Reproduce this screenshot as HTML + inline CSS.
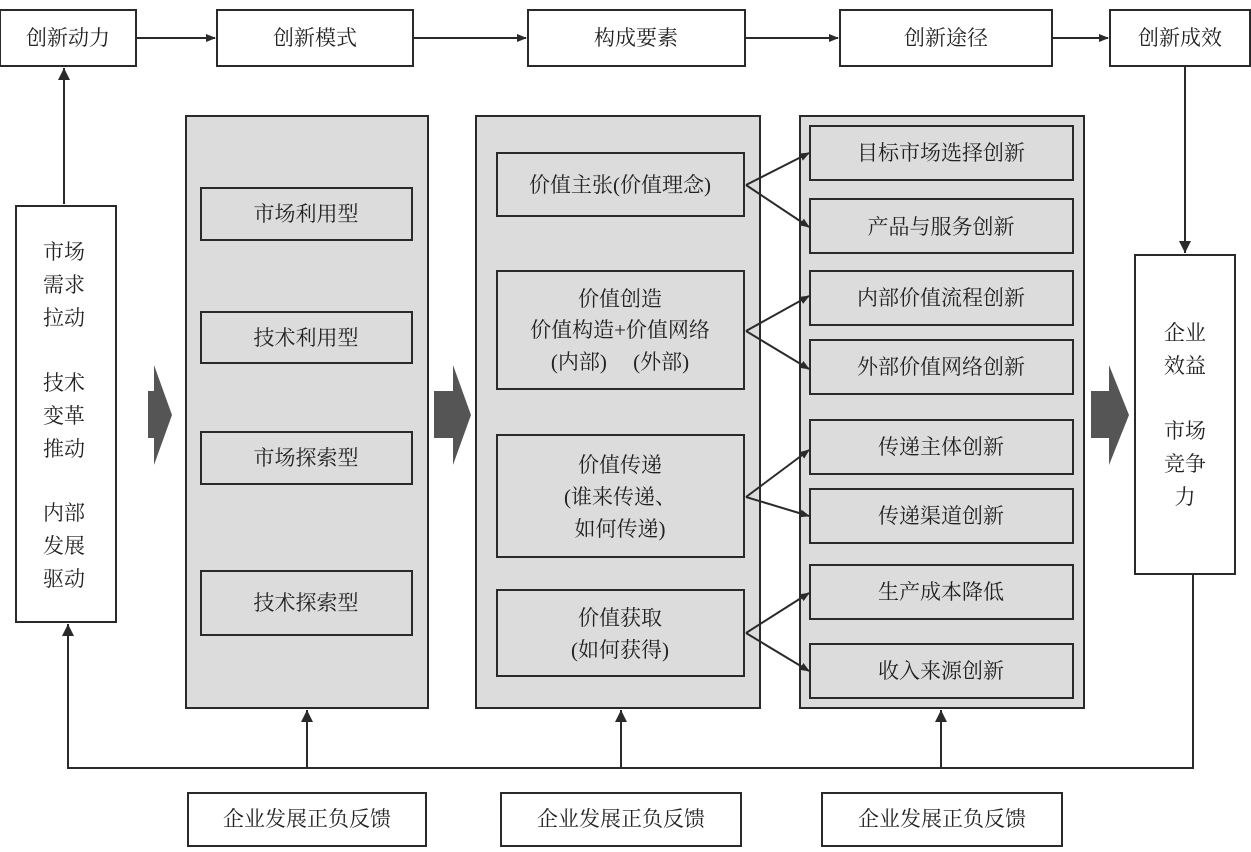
<!DOCTYPE html>
<html><head><meta charset="utf-8"><style>
html,body{margin:0;padding:0;background:#fff;}
svg{display:block;}
text{font-family:"Liberation Serif","Noto Serif CJK SC",serif;font-size:21px;fill:#222;text-anchor:middle;dominant-baseline:central;}
.b{fill:#fff;stroke:#2a2a2a;stroke-width:2;}
.g{fill:#dcdcdc;stroke:#2a2a2a;stroke-width:2;}
.l{stroke:#2a2a2a;stroke-width:2;fill:none;}
</style></head><body>
<svg width="1251" height="852" viewBox="0 0 1251 852">
<defs><marker id="a" markerWidth="10" markerHeight="8" refX="9" refY="4" orient="auto" markerUnits="userSpaceOnUse"><path d="M0,0 L10,4 L0,8 Z" fill="#2a2a2a"/></marker>
<marker id="u" markerWidth="12" markerHeight="16" refX="12" refY="6" orient="auto" markerUnits="userSpaceOnUse"><path d="M0,0 L12,6 L0,12 Z" fill="#2a2a2a"/></marker></defs>
<rect class="b" x="0" y="10" width="136" height="56"/><text x="68" y="38">创新动力</text>
<rect class="b" x="217" y="10" width="196" height="56"/><text x="315" y="38">创新模式</text>
<rect class="b" x="528" y="10" width="217" height="56"/><text x="636" y="38">构成要素</text>
<rect class="b" x="840" y="10" width="212" height="56"/><text x="946" y="38">创新途径</text>
<rect class="b" x="1110" y="10" width="140" height="56"/><text x="1180" y="38">创新成效</text>
<line class="l" x1="136" y1="38" x2="215" y2="38" marker-end="url(#a)"/>
<line class="l" x1="413" y1="38" x2="526" y2="38" marker-end="url(#a)"/>
<line class="l" x1="745" y1="38" x2="838" y2="38" marker-end="url(#a)"/>
<line class="l" x1="1052" y1="38" x2="1108" y2="38" marker-end="url(#a)"/>
<rect class="b" x="16" y="206" width="100" height="416"/>
<text x="64" y="252">市场</text><text x="64" y="285">需求</text><text x="64" y="318">拉动</text>
<text x="64" y="383">技术</text><text x="64" y="416">变革</text><text x="64" y="449">推动</text>
<text x="64" y="513">内部</text><text x="64" y="546">发展</text><text x="64" y="579">驱动</text>
<line class="l" x1="64" y1="204" x2="64" y2="68" marker-end="url(#u)"/>
<rect class="g" x="186" y="116" width="242" height="592"/>
<rect class="g" x="201" y="188" width="211" height="52"/><text x="306" y="214">市场利用型</text>
<rect class="g" x="201" y="312" width="211" height="51"/><text x="306" y="338">技术利用型</text>
<rect class="g" x="201" y="432" width="211" height="52"/><text x="306" y="458">市场探索型</text>
<rect class="g" x="201" y="571" width="211" height="64"/><text x="306" y="603">技术探索型</text>
<rect class="g" x="476" y="116" width="284" height="592"/>
<rect class="g" x="497" y="153" width="247" height="63"/><text x="620" y="185">价值主张(价值理念)</text>
<rect class="g" x="497" y="271" width="247" height="118"/><text x="620" y="299">价值创造</text><text x="620" y="330">价值构造+价值网络</text><text x="620" y="362">(内部)　 (外部)</text>
<rect class="g" x="497" y="435" width="247" height="122"/><text x="620" y="465">价值传递</text><text x="620" y="497">(谁来传递、</text><text x="620" y="529">如何传递)</text>
<rect class="g" x="497" y="590" width="247" height="86"/><text x="620" y="618">价值获取</text><text x="620" y="650">(如何获得)</text>
<rect class="g" x="800" y="116" width="284" height="592"/>
<rect class="g" x="810" y="126" width="263" height="54"/><text x="941" y="153">目标市场选择创新</text>
<rect class="g" x="810" y="199" width="263" height="54"/><text x="941" y="227">产品与服务创新</text>
<rect class="g" x="810" y="271" width="263" height="54"/><text x="941" y="298">内部价值流程创新</text>
<rect class="g" x="810" y="340" width="263" height="54"/><text x="941" y="367">外部价值网络创新</text>
<rect class="g" x="810" y="420" width="263" height="54"/><text x="941" y="447">传递主体创新</text>
<rect class="g" x="810" y="489" width="263" height="54"/><text x="941" y="516">传递渠道创新</text>
<rect class="g" x="810" y="565" width="263" height="54"/><text x="941" y="592">生产成本降低</text>
<rect class="g" x="810" y="644" width="263" height="54"/><text x="941" y="671">收入来源创新</text>
<g class="l">
<line x1="746" y1="185" x2="809" y2="153" marker-end="url(#a)"/><line x1="746" y1="185" x2="809" y2="227" marker-end="url(#a)"/>
<line x1="746" y1="331" x2="809" y2="296" marker-end="url(#a)"/><line x1="746" y1="331" x2="809" y2="369" marker-end="url(#a)"/>
<line x1="746" y1="497" x2="809" y2="450" marker-end="url(#a)"/><line x1="746" y1="497" x2="809" y2="516" marker-end="url(#a)"/>
<line x1="746" y1="633" x2="809" y2="593" marker-end="url(#a)"/><line x1="746" y1="633" x2="809" y2="671" marker-end="url(#a)"/>
</g>
<path d="M148,391 H154 V365 L172,415 L154,465 V438 H148 Z" fill="#555"/>
<path d="M434,391 H453 V365 L471,415 L453,465 V438 H434 Z" fill="#555"/>
<path d="M1091,391 H1109 V365 L1129,415 L1109,465 V438 H1091 Z" fill="#555"/>
<rect class="b" x="1135" y="255" width="100" height="319"/>
<text x="1185" y="333">企业</text><text x="1185" y="366">效益</text>
<text x="1185" y="431">市场</text><text x="1185" y="464">竞争</text><text x="1185" y="497">力</text>
<line class="l" x1="1185" y1="66" x2="1185" y2="253" marker-end="url(#u)"/>
<polyline class="l" points="1193,574 1193,768 68,768 68,624" marker-end="url(#u)"/>
<line class="l" x1="307" y1="768" x2="307" y2="710" marker-end="url(#u)"/>
<line class="l" x1="621" y1="768" x2="621" y2="710" marker-end="url(#u)"/>
<line class="l" x1="941" y1="768" x2="941" y2="710" marker-end="url(#u)"/>
<rect class="b" x="188" y="793" width="238" height="53"/><text x="307" y="819">企业发展正负反馈</text>
<rect class="b" x="501" y="793" width="240" height="53"/><text x="621" y="819">企业发展正负反馈</text>
<rect class="b" x="822" y="793" width="240" height="53"/><text x="942" y="819">企业发展正负反馈</text>
</svg>
</body></html>
